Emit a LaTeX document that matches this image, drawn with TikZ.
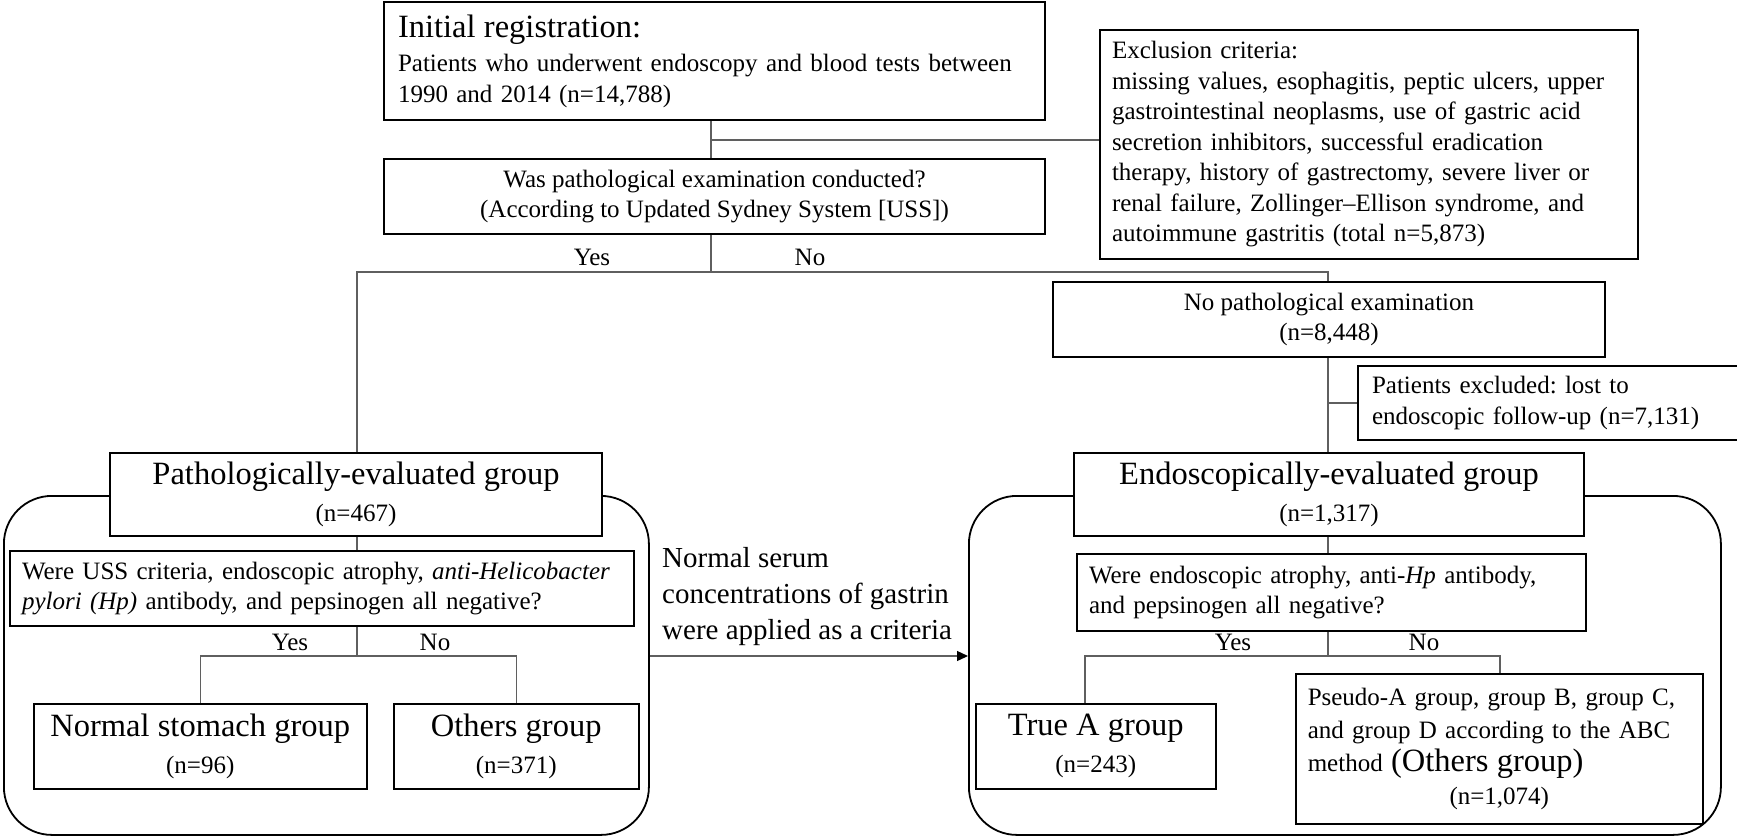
\documentclass[tikz,border=0pt]{standalone}
\usepackage{fontspec}
\setmainfont{Liberation Serif}
\usetikzlibrary{arrows.meta}
\definecolor{conncol}{RGB}{95,95,95}
\frenchspacing
\newcommand\bodyfs{\fontsize{25}{30.5}\selectfont}
\newcommand\grpfs{\fontsize{32.5}{37}\selectfont}
\newcommand\titlefs{\fontsize{32.5}{36}\selectfont}
\begin{document}
\begin{tikzpicture}[x=1pt,y=-1pt,
  box/.style={draw=black, line width=2pt, fill=white, anchor=north west, inner sep=0pt, font=\bodyfs\frenchspacing},
  thinbox/.style={box, line width=1.5pt},
  lbox/.style={align=left},
  cbox/.style={align=center},
  grp/.style={align=center, font=\fontsize{25}{37}\selectfont},
  conn/.style={draw=conncol, line width=1.3pt},
  cont/.style={draw=black, line width=1.8pt, rounded corners=48pt, anchor=north west, inner sep=0pt},
  lab/.style={font=\bodyfs, inner sep=0pt}
]
\useasboundingbox (0,0) rectangle (1737,836);

% containers
\node[cont, minimum width=645pt, minimum height=339pt] (lc) at (3,495) {};
\node[cont, minimum width=752pt, minimum height=339pt] (rc) at (968,495) {};

% top boxes
\node[box, lbox, minimum width=661pt, minimum height=118pt, inner xsep=14pt, text width=633pt] (init) at (383,1)
  {{\titlefs Initial registration:}\\[4pt]
   Patients who underwent endoscopy and blood tests between\\
   1990 and 2014 (n=14,788)};
\node[box, cbox, minimum width=661pt, minimum height=75pt] (q1) at (383,158)
  {Was pathological examination conducted?\\(According to Updated Sydney System [USS])};
\node[box, lbox, minimum width=538pt, minimum height=229pt, inner xsep=12pt, text width=514pt] (excl) at (1099,29)
  {Exclusion criteria:\\
   missing values, esophagitis, peptic ulcers, upper\\
   gastrointestinal neoplasms, use of gastric acid\\
   secretion inhibitors, successful eradication\\
   therapy, history of gastrectomy, severe liver or\\
   renal failure, Zollinger–Ellison syndrome, and\\
   autoimmune gastritis (total n=5,873)};
\node[box, cbox, minimum width=552pt, minimum height=75pt] (nopath) at (1052,281)
  {No pathological examination\\(n=8,448)};
\node[box, lbox, minimum width=384pt, minimum height=74pt, inner xsep=14pt, text width=356pt] (lost) at (1357,365)
  {Patients excluded: lost to\\endoscopic follow-up (n=7,131)};

% group boxes
\node[box, grp, minimum width=492pt, minimum height=83pt] (pathbox) at (109,452)
  {{\grpfs Pathologically-evaluated group}\\(n=467)};
\node[box, grp, minimum width=510pt, minimum height=83pt] (endobox) at (1073,452)
  {{\grpfs Endoscopically-evaluated group}\\(n=1,317)};

% question boxes
\node[box, lbox, minimum width=624pt, minimum height=75pt, inner xsep=12pt, text width=600pt] (pathq) at (9,550)
  {\mbox{Were USS criteria, endoscopic atrophy, \textit{anti-Helicobacter}}\\
   \mbox{\textit{pylori (Hp)} antibody, and pepsinogen all negative?}};
\node[box, lbox, minimum width=509pt, minimum height=77pt, inner xsep=12pt, text width=485pt] (endoq) at (1076,553)
  {Were endoscopic atrophy, anti-\textit{Hp} antibody,\\
   and pepsinogen all negative?};

% leaf boxes
\node[thinbox, grp, minimum width=333pt, minimum height=85pt] (normal) at (33,703)
  {{\grpfs Normal stomach group}\\(n=96)};
\node[thinbox, grp, minimum width=245pt, minimum height=85pt] (others) at (393,703)
  {{\grpfs Others group}\\(n=371)};
\node[thinbox, grp, minimum width=240pt, minimum height=85pt] (truea) at (975,703)
  {{\grpfs True A group}\\(n=243)};
\node[thinbox, lbox, minimum width=407pt, minimum height=150pt, inner xsep=12pt, text width=383pt,
      font=\fontsize{25}{33}\selectfont] (pseudo) at (1295,673)
  {Pseudo-A group, group B, group C,\\
   and group D according to the ABC\\
   method {\grpfs (Others group)}\\
   \makebox[\linewidth]{(n=1,074)}};

% connectors: top
\coordinate (ej) at (711,140);
\coordinate (split) at (711,272);
\draw[conn] (init.south -| ej) -- (q1.north -| ej);
\draw[conn] (ej) -- (ej -| excl.west);
\draw[conn] (q1.south -| split) -- (split);
\draw[conn] (pathbox.north -| 357,0) |- (split) -| (nopath.north -| 1328,0);
\draw[conn] (nopath.south -| 1328,0) -- (endobox.north -| 1328,0);
\draw[conn] (lost.west -| 1328,0) -- (lost.west);

% left branch
\coordinate (lsplit) at (357,656);
\draw[conn] (pathbox.south -| lsplit) -- (pathq.north -| lsplit);
\draw[conn] (pathq.south -| lsplit) -- (lsplit);
\draw[conn] (normal.north) |- (lsplit) -| (others.north);

% right branch
\coordinate (rsplit) at (1328,656);
\draw[conn] (endobox.south -| rsplit) -- (endoq.north -| rsplit);
\draw[conn] (endoq.south -| rsplit) -- (rsplit);
\draw[conn] (truea.north -| 1085,0) |- (rsplit) -| (pseudo.north -| 1500,0);

% arrow between containers
\draw[conn, -{Triangle[length=11pt,width=10pt,color=black]}] (lc.east |- lsplit) -- (rc.west |- lsplit);

% labels
\node[lab] (y1) at (592,257) {Yes};
\node[lab] (n1) at (810,257) {No};
\node[lab] (y2) at (290,642) {Yes};
\node[lab] (n2) at (435,642) {No};
\node[lab] (y3) at (1233,642) {Yes};
\node[lab] (n3) at (1424,642) {No};
\node[anchor=north west, align=left, inner sep=0pt, font=\fontsize{29}{36}\selectfont] (gtext) at (662,547)
  {Normal serum\\concentrations of gastrin\\were applied as a criteria};
\end{tikzpicture}
\end{document}
